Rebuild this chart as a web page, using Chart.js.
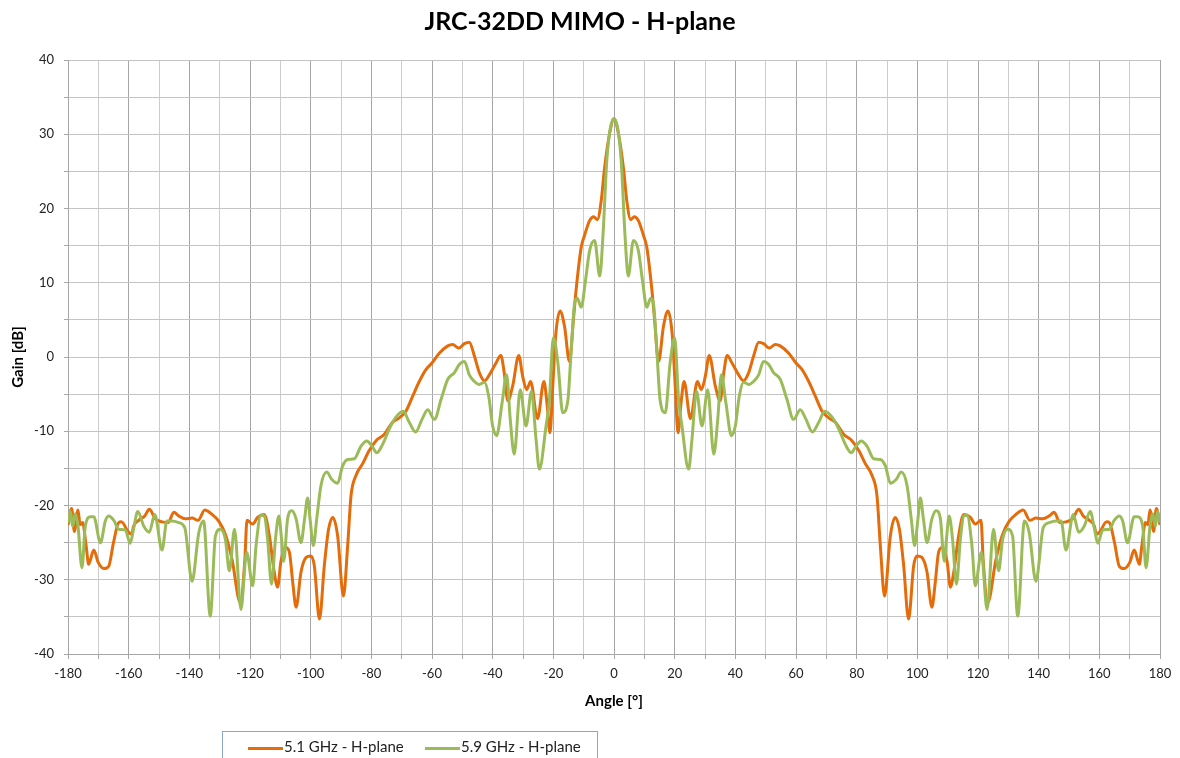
<!DOCTYPE html>
<html>
<head>
<meta charset="utf-8">
<script src="https://cdn.jsdelivr.net/npm/chart.js@4.4.1/dist/chart.umd.min.js"></script>
<style>
  body { margin: 0; background: #fff; }
  #wrap { position: relative; width: 1180px; height: 758px; overflow: hidden; }
  #legend {
    position: absolute; left: 222px; top: 731px; width: 376px; height: 40px;
    border: 1px solid #8ea6c9; box-sizing: border-box;
    font-family: Lato, "Open Sans", sans-serif; font-size: 15px; color: #222;
  }
  .item { position: absolute; top: 4px; height: 20px; line-height: 20px; white-space: nowrap; }
  .swatch { display: inline-block; width: 35px; height: 3px; vertical-align: middle; margin-right: 1px; }
</style>
</head>
<body>
<div id="wrap">
  <canvas id="chart" width="1180" height="758"></canvas>
  <div id="legend">
    <div class="item" style="left:25px"><span class="swatch" style="background:#e46c0a"></span>5.1 GHz - H-plane</div>
    <div class="item" style="left:202px"><span class="swatch" style="background:#9bbb59"></span>5.9 GHz - H-plane</div>
  </div>
</div>
<script>
// 5.1 GHz - H-plane
const angle51 = [-180, -178.8, -177.9, -176.7, -176, -175.2, -174, -173.2, -171.5, -170, -168.2, -166.6, -165, -163.3, -162.4, -160.2, -159, -158.4, -156.7, -154.7,
  -153.2, -151.2, -149, -147, -145.1, -143.5, -141.3, -139.1, -137.1, -134.9, -132.5, -130.3, -128.1, -125.9, -123.2, -121.7, -121, -119.1, -117.5, -115.3,
  -113.6, -112, -110.9, -109.8, -108.1, -107, -105.9, -104.8, -103.2, -101.5, -99.9, -98.8, -97.1, -95.5, -94.1, -92.7, -91.1, -89.2, -87.8, -86.7,
  -85.1, -82.9, -80.7, -78.5, -75.7, -73, -70.8, -68.6, -66.4, -64.2, -62, -60, -57.6, -54.8, -53.2, -51.2, -49.3, -47.7, -46, -44.4,
  -42.7, -41.1, -38.9, -37.3, -36.2, -35, -33.4, -31.4, -30.1, -28.8, -27.5, -25.2, -23.1, -22.1, -21.1, -20.2, -19.2, -17.8, -16.3, -14.7,
  -13.3, -12.5, -10.8, -9.7, -8, -6.7, -5.5, -4.2, -3.1, -1.4, 0,
  1.4, 3.1, 4.2, 5.5, 6.7, 8, 9.7, 10.8, 12.5, 13.3, 14.7, 16.3, 17.8, 19.2, 20.2, 21.1, 22.1, 23.1, 25.2, 27.5,
  28.8, 30.1, 31.4, 33.4, 35, 36.2, 37.3, 38.9, 41.1, 42.7, 44.4, 46, 47.7, 49.3, 51.2, 53.2, 54.8, 57.6, 60, 62,
  64.2, 66.4, 68.6, 70.8, 73, 75.7, 78.5, 80.7, 82.9, 85.1, 86.7, 87.8, 89.2, 91.1, 92.7, 94.1, 95.5, 97.1, 98.8, 99.9,
  101.5, 103.2, 104.8, 105.9, 107, 108.1, 109.8, 110.9, 112, 113.6, 115.3, 117.5, 119.1, 121, 121.7, 123.2, 125.9, 128.1, 130.3, 132.5,
  134.9, 137.1, 139.1, 141.3, 143.5, 145.1, 147, 149, 151.2, 153.2, 154.7, 156.7, 158.4, 159, 160.2, 162.4, 163.3, 165, 166.6, 168.2,
  170, 171.5, 173.2, 174, 175.2, 176, 176.7, 177.9, 178.8, 180];
const gain51 = [-22.6, -20.4, -23.5, -20.6, -22.6, -22.3, -25.5, -27.9, -26, -27.7, -28.5, -28.2, -25, -22.3, -22.2, -23.5, -23.9, -22.8, -22, -21.4,
  -20.5, -21.8, -22.2, -22.3, -20.9, -21.4, -21.8, -21.7, -22, -20.6, -21.2, -22.1, -23.9, -27.3, -33.1, -27.3, -22, -22.5, -21.6, -21.2,
  -24.1, -29, -31, -27.5, -25.7, -26.3, -30.4, -33.7, -29, -27, -26.8, -28.1, -35.3, -28.1, -23.2, -21.6, -24.1, -32.2, -25.4, -18.7,
  -16, -14.4, -12.6, -11.3, -10.4, -8.8, -8.2, -7.3, -5.3, -3.3, -1.7, -0.8, 0.5, 1.5, 1.7, 1.2, 1.8, 2.0, 0.1, -2.1,
  -3.2, -2.4, -0.8, 0.2, -2.1, -5.9, -3.9, 0.2, -2.6, -4.4, -3.3, -8.3, -3.3, -6.2, -10.2, -4, 3, 6.2, 4.1, -0.6,
  5.4, 9, 14.8, 16.4, 18.4, 18.9, 18.5, 21.1, 25.5, 30.2, 32.1,
  30.2, 25.5, 21.1, 18.5, 18.9, 18.4, 16.4, 14.8, 9, 5.4, -0.6, 4.1, 6.2, 3, -4, -10.2, -6.2, -3.3, -8.3, -3.3,
  -4.4, -2.6, 0.2, -3.9, -5.9, -2.1, 0.2, -0.8, -2.4, -3.2, -2.1, 0.1, 2.0, 1.8, 1.2, 1.7, 1.5, 0.5, -0.8, -1.7,
  -3.3, -5.3, -7.3, -8.2, -8.8, -10.4, -11.3, -12.6, -14.4, -16, -18.7, -25.4, -32.2, -24.1, -21.6, -23.2, -28.1, -35.3, -28.1, -26.8,
  -27, -29, -33.7, -30.4, -26.3, -25.7, -27.5, -31, -29, -24.1, -21.2, -21.6, -22.5, -22, -27.3, -33.1, -27.3, -23.9, -22.1, -21.2,
  -20.6, -22, -21.7, -21.8, -21.4, -20.9, -22.3, -22.2, -21.8, -20.5, -21.4, -22, -22.8, -23.9, -23.5, -22.2, -22.3, -25, -28.2, -28.5,
  -27.7, -26, -27.9, -25.5, -22.3, -22.6, -20.6, -23.5, -20.4, -22.6];

// 5.9 GHz - H-plane
const angle59 = [-180, -179.2, -178.5, -177.6, -176.7, -175.4, -174.3, -172.6, -171.5, -169.3, -167.7, -166.6, -164.9, -163.3, -161.1, -159.5, -158.4, -157, -155, -153.2,
  -151.4, -149, -147.4, -145.7, -143.5, -141.5, -139.1, -136.9, -135.3, -133.1, -131.4, -129.8, -128.1, -126.8, -125.1, -123, -121.1, -119.1, -118, -116.4,
  -115.3, -114.2, -112.9, -111.6, -110.5, -109.6, -108.9, -107.6, -106.2, -104.8, -103.2, -102, -101, -100.2, -99.1, -98, -96.6, -94.7, -93, -91.1,
  -89.5, -87.8, -85.6, -83.4, -81.5, -79.8, -78.2, -76.3, -74.1, -71.9, -69.5, -67.5, -65.4, -63.3, -61.4, -59.2, -57, -54.8, -52.6, -51,
  -49.3, -47.7, -46, -44.4, -42.7, -41.3, -40, -38.7, -36.9, -35.4, -34.2, -32.9, -30.9, -29, -27.2, -25.7, -24.6, -22.4, -21.3, -20,
  -18.5, -16.9, -15.2, -14.1, -13, -12.1, -10.8, -9.4, -8, -6.4, -4.7, -3.6, -2.3, 0,
  2.3, 3.6, 4.7, 6.4, 8, 9.4, 10.8, 12.1, 13, 14.1, 15.2, 16.9, 18.5, 20, 21.3, 22.4, 24.6, 25.7, 27.2, 29,
  30.9, 32.9, 34.2, 35.4, 36.9, 38.7, 40, 41.3, 42.7, 44.4, 46, 47.7, 49.3, 51, 52.6, 54.8, 57, 59.2, 61.4, 63.3,
  65.4, 67.5, 69.5, 71.9, 74.1, 76.3, 78.2, 79.8, 81.5, 83.4, 85.6, 87.8, 89.5, 91.1, 93, 94.7, 96.6, 98, 99.1, 100.2,
  101, 102, 103.2, 104.8, 106.2, 107.6, 108.9, 109.6, 110.5, 111.6, 112.9, 114.2, 115.3, 116.4, 118, 119.1, 121.1, 123, 125.1, 126.8,
  128.1, 129.8, 131.4, 133.1, 135.3, 136.9, 139.1, 141.5, 143.5, 145.7, 147.4, 149, 151.4, 153.2, 155, 157, 158.4, 159.5, 161.1, 163.3,
  164.9, 166.6, 167.7, 169.3, 171.5, 172.6, 174.3, 175.4, 176.7, 177.6, 178.5, 179.2, 180];
const gain59 = [-22.3, -20.8, -22.8, -21.1, -22.8, -28.4, -22.8, -21.5, -21.5, -25, -22.1, -21.4, -22, -23.2, -23.3, -25.1, -23.2, -20.8, -22.8, -23.6,
  -21.2, -26, -22.1, -22.1, -22.3, -23, -30.2, -23.7, -22.1, -34.9, -24.1, -23.2, -24.6, -28.8, -23.2, -34, -26.3, -30.8, -25.4, -21.3,
  -21.4, -24.5, -30.6, -24.5, -21.4, -24.5, -27.5, -21.8, -20.7, -21.8, -25, -21.8, -19, -21.8, -25.4, -21.8, -17.3, -15.5, -16.5, -17,
  -14.7, -13.8, -13.7, -12, -11.3, -12, -12.9, -11.8, -9.7, -8.1, -7.3, -8.8, -10.1, -8.4, -7.1, -8.4, -5.7, -3, -2.1, -1,
  -0.6, -2.4, -3.3, -3.7, -3.4, -5.3, -9.3, -10.6, -6.2, -2.4, -8.4, -13.1, -4.4, -9.3, -4.6, -11.1, -15.1, -9.3, -5.8, 2.6,
  -0.8, -7.5, -5.8, 1, 7.2, 7.9, 6.7, 10.3, 14.4, 15.7, 10.9, 16.6, 26.9, 32.1,
  26.9, 16.6, 10.9, 15.7, 14.4, 10.3, 6.7, 7.9, 7.2, 1, -5.8, -7.5, -0.8, 2.6, -5.8, -9.3, -15.1, -11.1, -4.6, -9.3,
  -4.4, -13.1, -8.4, -2.4, -6.2, -10.6, -9.3, -5.3, -3.4, -3.7, -3.3, -2.4, -0.6, -1, -2.1, -3, -5.7, -8.4, -7.1, -8.4,
  -10.1, -8.8, -7.3, -8.1, -9.7, -11.8, -12.9, -12, -11.3, -12, -13.7, -13.8, -14.7, -17, -16.5, -15.5, -17.3, -21.8, -25.4, -21.8,
  -19, -21.8, -25, -21.8, -20.7, -21.8, -27.5, -24.5, -21.4, -24.5, -30.6, -24.5, -21.4, -21.3, -25.4, -30.8, -26.3, -34, -23.2, -28.8,
  -24.6, -23.2, -24.1, -34.9, -22.1, -23.7, -30.2, -23, -22.3, -22.1, -22.1, -26, -21.2, -23.6, -22.8, -20.8, -23.2, -25.1, -23.3, -23.2,
  -22, -21.4, -22.1, -25, -21.5, -21.5, -22.8, -28.4, -22.8, -21.1, -22.8, -20.8, -22.3];

const xMin = -180, xMax = 180, xStep = 10, xLabelEvery = 20;
const yMin = -40, yMax = 40, yStep = 5, yLabelEvery = 10;

function toPoints(xs, ys) {
  return xs.map(function(x, i) { return { x: x, y: ys[i] }; });
}

const font = 'Lato, "Open Sans", sans-serif';

const ctx = document.getElementById('chart').getContext('2d');
const chart = new Chart(ctx, {
  type: 'line',
  data: {
    datasets: [{
      label: '5.1 GHz - H-plane',
      data: toPoints(angle51, gain51),
      borderColor: '#e46c0a',
      borderWidth: 3,
      pointRadius: 0,
      cubicInterpolationMode: 'monotone',
      order: 1,               // orange under, green drawn on top
      fill: false
    }, {
      label: '5.9 GHz - H-plane',
      data: toPoints(angle59, gain59),
      borderColor: '#9bbb59',
      borderWidth: 3,
      pointRadius: 0,
      cubicInterpolationMode: 'monotone',
      order: 0,
      fill: false
    }]
  },
  options: {
    responsive: false,
    animation: false,
    layout: { padding: { left: 0, right: 20, top: 0, bottom: 48 } },
    plugins: {
      legend: { display: false },
      tooltip: { enabled: false },
      title: {
        display: true,
        text: 'JRC-32DD MIMO - H-plane',
        color: '#000',
        font: { family: font, size: 25, weight: 'bold' },
        padding: { top: 7, bottom: 23 }
      }
    },
    scales: {
      x: {
        type: 'linear',
        min: xMin, max: xMax,
        ticks: {
          stepSize: xStep,
          autoSkip: false,
          maxRotation: 0,
          padding: 7,
          color: '#222',
          font: { family: font, size: 13 },
          callback: function(v) { return v % xLabelEvery === 0 ? v : ''; }
        },
        grid: {
          color: function(c) { return c.tick && c.tick.value % xLabelEvery === 0 ? '#a6a6a6' : '#cccccc'; },
          tickColor: '#a6a6a6',
          tickLength: 5
        },
        border: { color: '#a6a6a6' },
        title: {
          display: true, text: 'Angle [°]', color: '#000',
          font: { family: font, size: 15, weight: 'bold' },
          padding: { top: 0, bottom: 0 }
        },
        afterFit: function(scale) { scale.height = 56; }
      },
      y: {
        min: yMin, max: yMax,
        ticks: {
          stepSize: yStep,
          padding: 10,
          color: '#222',
          font: { family: font, size: 13 },
          callback: function(v) { return v % yLabelEvery === 0 ? v : ''; }
        },
        grid: { color: '#c4c4c4', tickColor: '#a6a6a6', tickLength: 4 },
        border: { color: '#a6a6a6' },
        title: {
          display: true, text: 'Gain [dB]', color: '#000',
          font: { family: font, size: 15, weight: 'bold' },
          padding: { top: 9, bottom: 0 }
        },
        afterFit: function(scale) { scale.width = 68; }
      }
    }
  }
});
</script>
</body>
</html>
